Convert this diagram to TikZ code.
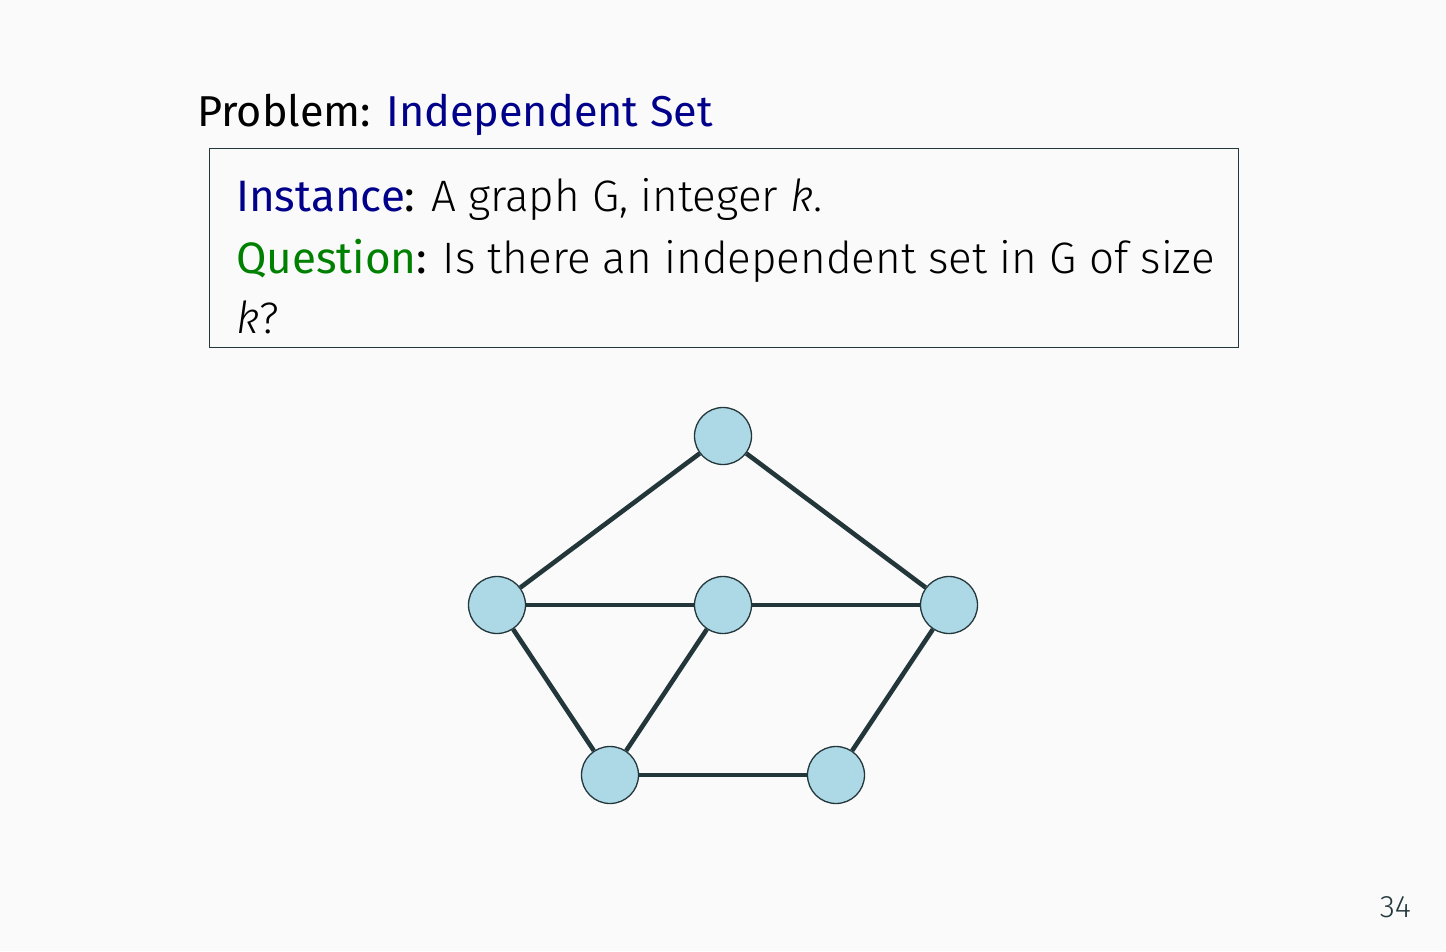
\documentclass[tikz,border=0pt]{standalone}
\usepackage{fontspec}
\setmainfont{Fira Sans}
\newfontfamily\lightfont{Fira Sans Light}
\usetikzlibrary{backgrounds}
\definecolor{bgc}{HTML}{FAFAFA}
\definecolor{darkteal}{HTML}{23373B}
\definecolor{navyb}{RGB}{0,0,139}
\definecolor{greenq}{RGB}{0,128,0}
\definecolor{nodefill}{RGB}{173,216,230}
\begin{document}
\begin{tikzpicture}[x=1pt,y=-1pt,
  txt/.style={anchor=base west, inner sep=0pt, font=\fontsize{44}{52}\selectfont},
  vtx/.style={circle, draw=darkteal, line width=1.3pt, fill=nodefill, minimum size=57pt, inner sep=0pt},
  edge/.style={draw=darkteal, line width=4.6pt}]
\useasboundingbox (0,0) rectangle (1446,951);

\node[txt, font=\fontsize{43.2}{52}\selectfont] (title) at (197,126) {Problem: \textcolor{navyb}{Independent Set}};
\node[draw=darkteal, line width=1.3pt, anchor=north west, minimum width=1029pt, minimum height=199pt, inner sep=0pt] (box) at (209,148) {};
\node[txt] (inst) at (236,211) {\textcolor{navyb}{Instance}: {\lightfont A graph G, integer \textit{k}.}};
\node[txt] (ques) at (236,273) {\textcolor{greenq}{Question}: {\lightfont Is there an independent set in G of size}};
\node[txt] (kq) at (236,333) {{\lightfont\textit{k}?}};

\node[vtx] (t) at (723,436) {};
\node[vtx] (l) at (497,605) {};
\node[vtx] (m) at (723,605) {};
\node[vtx] (r) at (949,605) {};
\node[vtx] (bl) at (610,775) {};
\node[vtx] (br) at (836,775) {};
\path[edge] (t) -- (l);
\path[edge] (t) -- (r);
\path[edge] (l) -- (m);
\path[edge] (m) -- (r);
\path[edge] (l) -- (bl);
\path[edge] (m) -- (bl);
\path[edge] (r) -- (br);
\path[edge] (bl) -- (br);

\node[anchor=base east, inner sep=0pt, font=\lightfont\fontsize{31}{36}\selectfont, text=darkteal] (pg) at (1411,917) {34};
\begin{scope}[on background layer]
\fill[bgc] (0,0) rectangle (1446,951);
\end{scope}
\end{tikzpicture}
\end{document}
